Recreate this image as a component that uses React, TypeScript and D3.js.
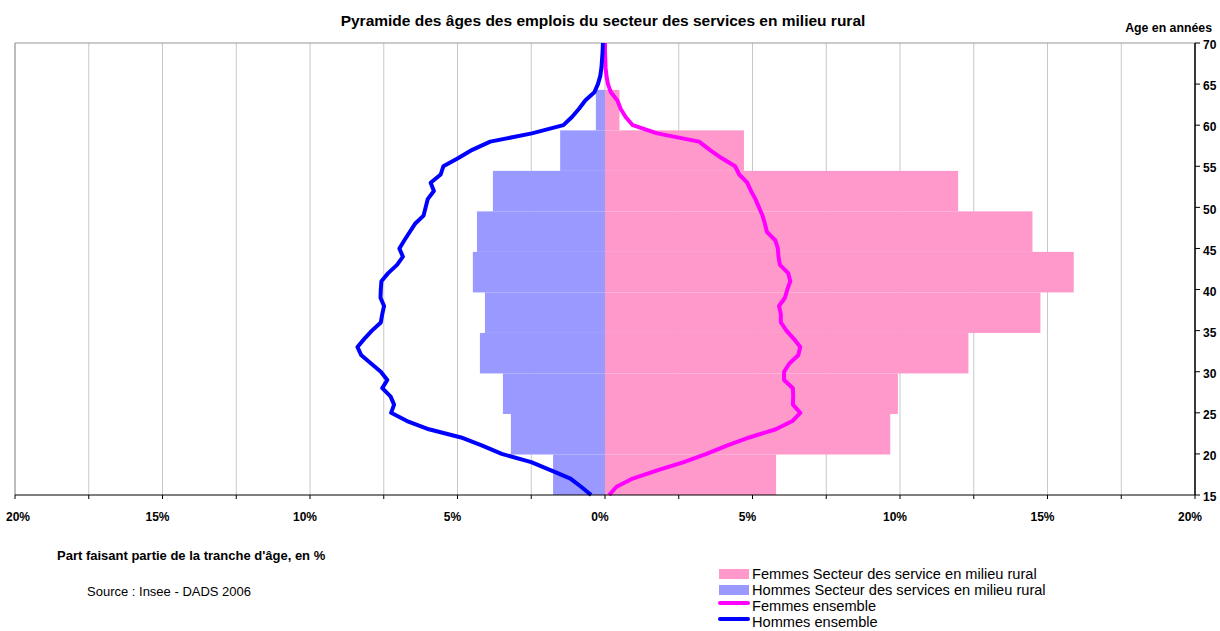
import React from "react";
import * as d3 from "d3";

// ---- Data ----
const ageGroups = ["15-19", "20-24", "25-29", "30-34", "35-39", "40-44", "45-49", "50-54", "55-59", "60-64"];
const femmesServices = [5.80, 9.67, 9.93, 12.32, 14.76, 15.89, 14.49, 11.97, 4.71, 0.49];
const hommesServices = [1.76, 3.19, 3.46, 4.24, 4.07, 4.48, 4.34, 3.80, 1.52, 0.31];

const ages = d3.range(15, 71);
const femmesEnsemble = [
  0.14, 0.39, 0.94, 1.77, 2.67, 3.44, 4.13, 4.89, 5.79, 6.35,
  6.62, 6.37, 6.38, 6.37, 6.07, 6.07, 6.25, 6.55, 6.62, 6.40,
  6.15, 5.96, 5.96, 5.90, 6.10, 6.18, 6.28, 6.21, 5.93, 5.88,
  5.86, 5.77, 5.49, 5.42, 5.34, 5.22, 5.10, 4.95, 4.82, 4.55,
  4.41, 3.95, 3.55, 3.19, 1.77, 0.94, 0.70, 0.53, 0.42, 0.20,
  0.10, 0.05, 0.02, 0.01, 0.00, 0.00,
];
const hommesEnsemble = [
  0.47, 0.81, 1.17, 1.83, 2.50, 3.50, 4.16, 4.88, 5.97, 6.71,
  7.25, 7.15, 7.27, 7.55, 7.38, 7.60, 7.93, 8.26, 8.39, 8.16,
  7.90, 7.60, 7.55, 7.49, 7.61, 7.60, 7.58, 7.35, 7.05, 6.85,
  6.97, 6.80, 6.62, 6.44, 6.15, 6.08, 6.01, 5.80, 5.91, 5.57,
  5.48, 4.97, 4.50, 3.89, 2.48, 1.41, 1.12, 0.88, 0.67, 0.36,
  0.24, 0.16, 0.12, 0.10, 0.08, 0.07,
];

const xTicks = [-20, -15, -10, -5, 0, 5, 10, 15, 20];
const xMinorTicks = d3.range(-20, 20.01, 2.5);
const yTicks = [15, 20, 25, 30, 35, 40, 45, 50, 55, 60, 65, 70];

const title = "Pyramide des âges des emplois du secteur des services en milieu rural";
const yAxisTitle = "Age en années";
const xAxisTitle = "Part faisant partie de la tranche d'âge, en %";
const sourceText = "Source : Insee - DADS 2006";
const legendItems = [
  { label: "Femmes Secteur des service en milieu rural", type: "rect", color: "#FF99CC" },
  { label: "Hommes Secteur des services en milieu rural", type: "rect", color: "#9999FF" },
  { label: "Femmes ensemble", type: "line", color: "#FF00FF" },
  { label: "Hommes ensemble", type: "line", color: "#0000FF" },
];

const FONT = "'Liberation Sans', Arial, Helvetica, sans-serif";

export default function App() {
  const W = 1220, H = 631;
  const left = 15, right = 1195, top = 43, bottom = 495;

  const x = d3.scaleLinear().domain([-20, 20]).range([left, right]);
  const y = d3.scaleLinear().domain([15, 70]).range([bottom, top]);
  const band = d3.scaleBand<string>().domain(ageGroups).range([y(15), y(64.3)]).padding(0);

  const lineF = d3.line<number>().x((d) => x(d)).y((_, i) => y(ages[i]));
  const lineH = d3.line<number>().x((d) => x(-d)).y((_, i) => y(ages[i]));

  return (
    <svg width={W} height={H} style={{ position: "absolute", left: 0, top: 0, background: "#fff" }} fontFamily={FONT}>
      {/* title */}
      <text x={603} y={26} textAnchor="middle" fontSize={15.5} fontWeight="bold" fill="#000">{title}</text>
      <text x={1212} y={32} textAnchor="end" fontSize={12.3} fontWeight="bold" fill="#000">{yAxisTitle}</text>

      {/* gridlines */}
      {xMinorTicks.map((t) => (
        <line key={"g" + t} x1={x(t)} x2={x(t)} y1={top} y2={bottom} stroke="#c8c8c8" strokeWidth={1} />
      ))}
      <line x1={left} x2={right} y1={top} y2={top} stroke="#969696" strokeWidth={1} />
      <line x1={left} x2={left} y1={top} y2={bottom} stroke="#969696" strokeWidth={1} />

      {/* bars */}
      {ageGroups.map((g, i) => {
        const yb = band(g)!;
        const h = band.bandwidth();
        return (
          <g key={g}>
            <rect x={x(0)} y={yb} width={x(femmesServices[i]) - x(0)} height={h} fill="#FF99CC" />
            <rect x={x(-hommesServices[i])} y={yb} width={x(0) - x(-hommesServices[i])} height={h} fill="#9999FF" />
          </g>
        );
      })}

      {/* lines */}
      <path d={lineF(femmesEnsemble)!} fill="none" stroke="#FF00FF" strokeWidth={4} strokeLinejoin="round" />
      <path d={lineH(hommesEnsemble)!} fill="none" stroke="#0000FF" strokeWidth={4} strokeLinejoin="round" />

      {/* bottom axis */}
      <line x1={left} x2={right} y1={bottom} y2={bottom} stroke="#000" strokeWidth={1} />
      {xMinorTicks.map((t) => (
        <line key={"t" + t} x1={x(t)} x2={x(t)} y1={bottom} y2={bottom + 4} stroke="#000" strokeWidth={1} />
      ))}
      {xTicks.map((t) => (
        <text key={"xl" + t} x={Math.max(x(t) - 5, 18)} y={521} textAnchor="middle" fontSize={12} fontWeight="bold" fill="#000">
          {Math.abs(t) + "%"}
        </text>
      ))}

      {/* right axis */}
      <line x1={right} x2={right} y1={top} y2={bottom} stroke="#000" strokeWidth={1.5} />
      {yTicks.map((t) => (
        <g key={"y" + t}>
          <line x1={right} x2={right + 5} y1={y(t)} y2={y(t)} stroke="#000" strokeWidth={1} />
          <text x={1203} y={y(t) + 2} dy="0.35em" fontSize={12} fontWeight="bold" fill="#000">{t}</text>
        </g>
      ))}

      {/* axis title & source */}
      <text x={57} y={560} fontSize={13} fontWeight="bold" fill="#000">{xAxisTitle}</text>
      <text x={87} y={596} fontSize={13} fill="#000">{sourceText}</text>

      {/* legend */}
      {legendItems.map((it, i) => {
        const cy = 574 + i * 16;
        return (
          <g key={it.label}>
            {it.type === "rect" ? (
              <rect x={719} y={cy - 5} width={30} height={10} fill={it.color} />
            ) : (
              <line x1={720} x2={748} y1={cy - 3} y2={cy - 3} stroke={it.color} strokeWidth={4} strokeLinecap="round" />
            )}
            <text x={752} y={cy + 5} fontSize={14.6} fill="#000">{it.label}</text>
          </g>
        );
      })}
    </svg>
  );
}
